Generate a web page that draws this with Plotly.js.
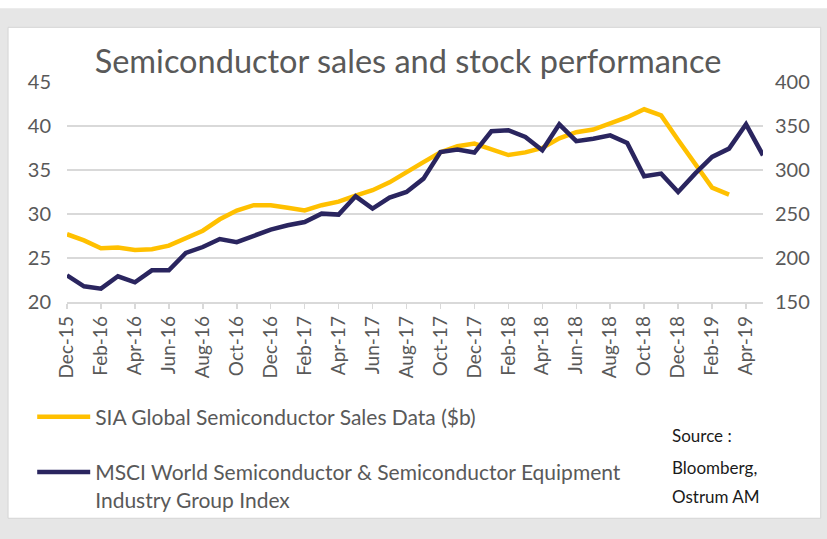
<!DOCTYPE html>
<html>
<head>
<meta charset="utf-8">
<script src="https://cdn.plot.ly/plotly-3.0.1.min.js"></script>
<style>html,body{margin:0;padding:0;background:#fff;}#chart{width:827px;height:539px;}</style>
</head>
<body>
<div id="chart"></div>
<script>
var months = ["Dec-15","Jan-16","Feb-16","Mar-16","Apr-16","May-16","Jun-16","Jul-16","Aug-16","Sep-16","Oct-16","Nov-16",
  "Dec-16","Jan-17","Feb-17","Mar-17","Apr-17","May-17","Jun-17","Jul-17","Aug-17","Sep-17","Oct-17","Nov-17",
  "Dec-17","Jan-18","Feb-18","Mar-18","Apr-18","May-18","Jun-18","Jul-18","Aug-18","Sep-18","Oct-18","Nov-18",
  "Dec-18","Jan-19","Feb-19","Mar-19","Apr-19","May-19"];
var tickLabels = ["Dec-15","Feb-16","Apr-16","Jun-16","Aug-16","Oct-16","Dec-16","Feb-17","Apr-17","Jun-17","Aug-17",
  "Oct-17","Dec-17","Feb-18","Apr-18","Jun-18","Aug-18","Oct-18","Dec-18","Feb-19","Apr-19"];
var siaSales = [27.7,27.0,26.1,26.2,25.9,26.0,26.4,27.2,28.1,29.4,30.4,31.0,31.0,30.7,30.4,31.0,31.4,32.1,32.7,33.6,
  34.8,35.9,37.0,37.7,38.0,37.4,36.7,37.0,37.5,38.6,39.3,39.6,40.3,41.0,41.9,41.2,38.4,35.6,33.0,32.2];
var msciIndex = [180.3,167.8,165.2,179.2,172.4,186.0,186.0,205.7,212.5,221.6,218.0,225.8,232.3,237.2,240.9,250.4,249.3,
  270.1,256.1,268.6,275.0,290.2,320.5,323.2,319.8,344.0,345.1,337.5,322.4,351.9,332.7,335.6,339.4,330.7,292.8,295.9,
  275.0,295.9,314.8,324.3,351.9,316.7];
var seriesNames = ["SIA Global Semiconductor Sales Data ($b)",
  "MSCI World Semiconductor & Semiconductor Equipment<br>Industry Group Index"];

var FONT = "Lato, 'Open Sans', sans-serif";
var TXT = "#595959";

var traces = [
  {x: months.slice(0, siaSales.length), y: siaSales, type: "scatter", mode: "lines", name: seriesNames[0],
   line: {color: "#FFC000", width: 4.5}, yaxis: "y", legendgroup: "a"},
  {x: months, y: msciIndex, type: "scatter", mode: "lines", name: seriesNames[1],
   line: {color: "#2A255F", width: 4.5}, yaxis: "y2", legendgroup: "b"}
];

var layout = {
  width: 827, height: 539,
  margin: {l: 67, r: 64, t: 82, b: 237, pad: 0},
  paper_bgcolor: "#ffffff",
  plot_bgcolor: "rgba(0,0,0,0)",
  font: {family: FONT, color: TXT},
  title: {text: "Semiconductor sales and stock performance", font: {family: FONT, size: 32.5, color: TXT},
          xref: "paper", x: 0.49, xanchor: "center", yref: "container", y: 0.885, yanchor: "middle"},
  xaxis: {type: "category", categoryorder: "array", categoryarray: months, range: [0, 41],
          tickmode: "array", tickvals: tickLabels, ticktext: tickLabels, tickangle: -90,
          ticks: "outside", ticklen: 5, tickcolor: "#d9d9d9", tickwidth: 1.5,
          showline: true, linecolor: "#d9d9d9", linewidth: 1.5, showgrid: false, zeroline: false,
          tickfont: {family: FONT, size: 19, color: TXT}, fixedrange: true},
  yaxis: {range: [20, 45], dtick: 5, tick0: 20, showgrid: true, gridcolor: "#d9d9d9", gridwidth: 1.5,
          zeroline: false, showline: false, ticks: "", ticklabelstandoff: 15,
          tickfont: {family: FONT, size: 20, color: TXT}},
  yaxis2: {range: [150, 400], dtick: 50, tick0: 150, overlaying: "y", side: "right", showgrid: false,
           zeroline: false, showline: false, ticks: "", ticklabelstandoff: 11,
           tickfont: {family: FONT, size: 20, color: TXT}},
  showlegend: true,
  legend: {x: -0.05, xanchor: "left", y: -0.43, yanchor: "top", orientation: "v",
           traceorder: "grouped", tracegroupgap: 25, valign: "top", itemwidth: 53,
           bgcolor: "rgba(0,0,0,0)", font: {family: FONT, size: 21, color: TXT}},
  shapes: [
    {type: "rect", xref: "paper", yref: "paper", x0: -0.2, x1: 1.2, y0: 1.335, y1: -1.3,
     fillcolor: "#e6e6e6", line: {width: 0}, layer: "below"},
    {type: "rect", xref: "paper", yref: "paper", x0: -0.0847, x1: 1.0829, y0: 1.2486, y1: -0.983,
     fillcolor: "#ffffff", line: {color: "#d4d4d4", width: 1}, layer: "below"}
  ],
  annotations: [
    {text: "Source :", xref: "paper", yref: "paper", x: 0.866, y: -0.606, xanchor: "left", yanchor: "middle",
     showarrow: false, font: {family: FONT, size: 17, color: "#1a1a1a"}},
    {text: "Bloomberg,", xref: "paper", yref: "paper", x: 0.866, y: -0.751, xanchor: "left", yanchor: "middle",
     showarrow: false, font: {family: FONT, size: 17, color: "#1a1a1a"}},
    {text: "Ostrum AM", xref: "paper", yref: "paper", x: 0.866, y: -0.883, xanchor: "left", yanchor: "middle",
     showarrow: false, font: {family: FONT, size: 17, color: "#1a1a1a"}}
  ]
};

Plotly.newPlot("chart", traces, layout, {displayModeBar: false, staticPlot: true});
</script>
</body>
</html>
